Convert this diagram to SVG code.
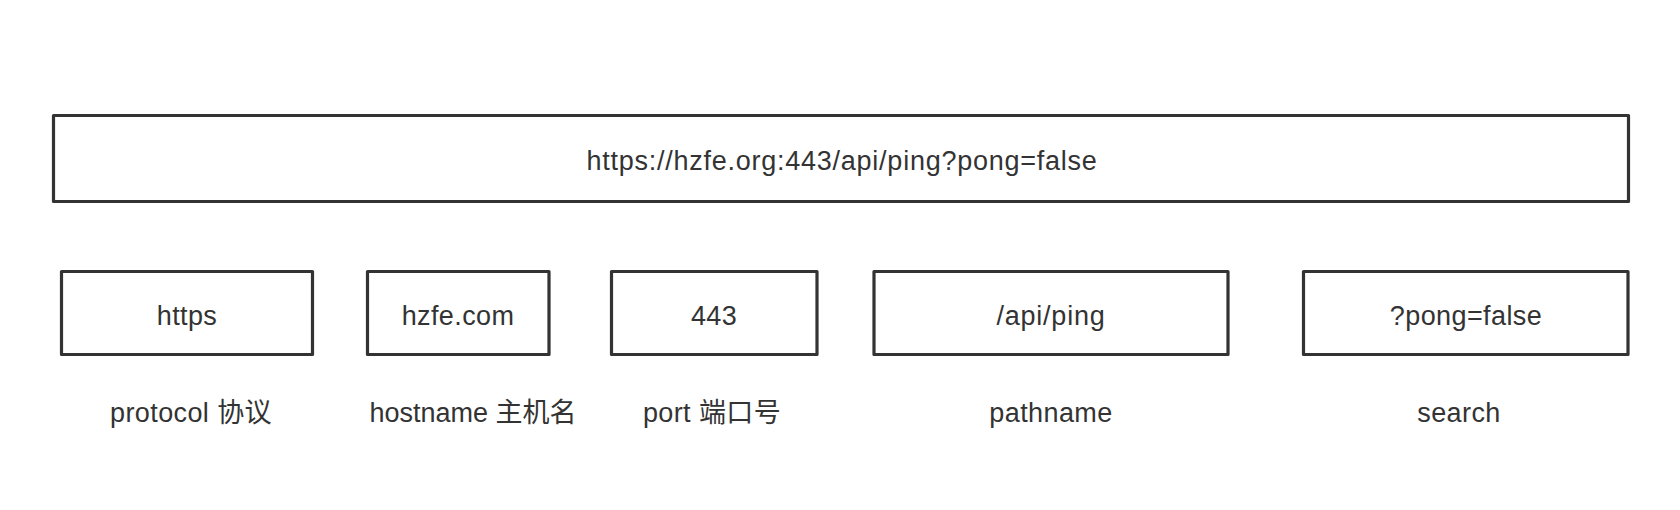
<svg xmlns="http://www.w3.org/2000/svg" width="1680" height="510" viewBox="0 0 1680 510">
<style>
.box{fill:#fff;stroke:#333;stroke-width:3.2;stroke-linejoin:round}
.t{font-family:"Liberation Sans","Noto Sans CJK SC",sans-serif;font-size:27px;fill:#333;text-anchor:middle;letter-spacing:0.4px}
.w{letter-spacing:0.75px}
.n{letter-spacing:0}
</style>
<rect width="1680" height="510" fill="#fff"/>
<g id="connectors"></g>
<g id="url">
<rect class="box" x="53.5" y="115.5" width="1575" height="86"/>
<text class="t w" x="842" y="170">https://hzfe.org:443/api/ping?pong=false</text>
</g>
<g id="protocol">
<rect class="box" x="61.5" y="271.5" width="251" height="83"/>
<text class="t" x="187" y="325">https</text>
<text class="t" x="191" y="422">protocol 协议</text>
</g>
<g id="hostname">
<rect class="box" x="367.5" y="271.5" width="181.5" height="83"/>
<text class="t" x="458" y="325">hzfe.com</text>
<text class="t n" x="473" y="422">hostname 主机名</text>
</g>
<g id="port">
<rect class="box" x="611.5" y="271.5" width="205.5" height="83"/>
<text class="t" x="714" y="325">443</text>
<text class="t" x="712" y="422">port 端口号</text>
</g>
<g id="pathname">
<rect class="box" x="874" y="271.5" width="354" height="83"/>
<text class="t w" x="1051" y="325">/api/ping</text>
<text class="t" x="1051" y="422">pathname</text>
</g>
<g id="search">
<rect class="box" x="1303.5" y="271.5" width="324.5" height="83"/>
<text class="t" x="1466" y="325">?pong=false</text>
<text class="t" x="1459" y="422">search</text>
</g>
</svg>
